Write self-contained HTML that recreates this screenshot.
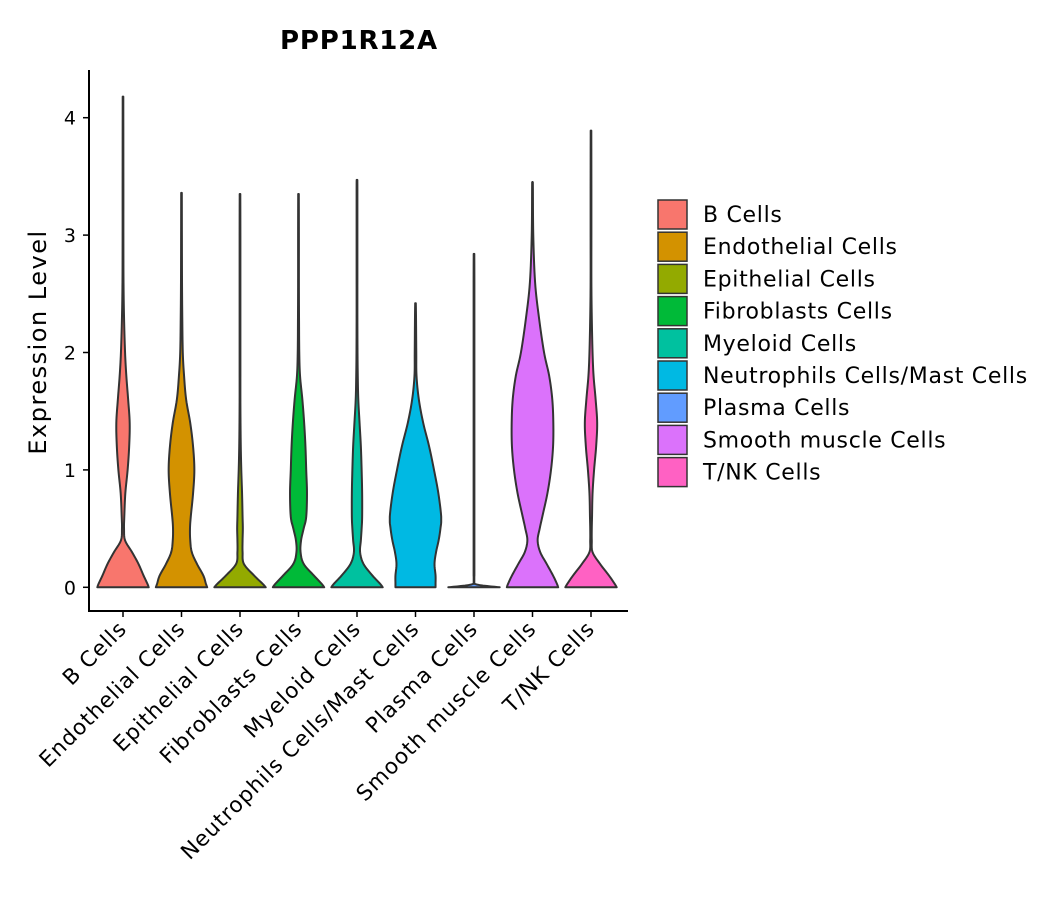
<!DOCTYPE html>
<html><head><meta charset="utf-8"><style>
body{margin:0;background:#fff}
svg text{font-family:"DejaVu Sans","Liberation Sans",sans-serif;fill:#000}
</style></head><body>
<svg width="1057" height="900" xmlns="http://www.w3.org/2000/svg">
<text x="359" y="49" text-anchor="middle" font-size="26" font-weight="bold" letter-spacing="0.8">PPP1R12A</text>
<text transform="translate(46,342) rotate(-90)" text-anchor="middle" font-size="24" letter-spacing="1.5">Expression Level</text>
<g id="plot"></g>
<g id="legend"></g>
</svg>
<script>
const categories=["B Cells","Endothelial Cells","Epithelial Cells","Fibroblasts Cells","Myeloid Cells","Neutrophils Cells/Mast Cells","Plasma Cells","Smooth muscle Cells","T/NK Cells"];
const colors=["#F8766D","#D39200","#93AA00","#00BA38","#00C19F","#00B9E3","#619CFF","#DB72FB","#FF61C3"];
const grid=[0,0.03,0.1,0.2,0.3,0.4,0.5,0.6,0.8,1.0,1.2,1.4,1.6,1.8,2.0,2.3,2.6,3.0,3.4];
const maxVals=[4.18,3.36,3.35,3.35,3.47,2.42,2.84,3.45,3.89];
const wB=[1,0.95,0.8,0.6,0.35,0.08,0.04,0.05,0.09,0.18,0.24,0.26,0.2,0.13,0.08,0.04,0.02,0.015,0.015];
const wEndo=[1,0.95,0.85,0.6,0.4,0.34,0.33,0.36,0.45,0.5,0.45,0.34,0.18,0.1,0.05,0.03,0.02,0.015,0.015];
const wEpi=[1,0.88,0.55,0.15,0.1,0.1,0.11,0.1,0.08,0.05,0.03,0.02,0.015,0.015,0.015,0.015,0.015,0.015,0.015];
const wFib=[1,0.9,0.6,0.2,0.08,0.1,0.2,0.3,0.33,0.3,0.27,0.22,0.15,0.06,0.03,0.02,0.015,0.015,0.015];
const wMye=[1,0.9,0.6,0.25,0.12,0.15,0.18,0.2,0.2,0.18,0.15,0.1,0.05,0.03,0.02,0.015,0.015,0.015,0.015];
const wNeu=[0.78,0.78,0.78,0.74,0.8,0.9,0.97,1.0,0.89,0.72,0.53,0.3,0.13,0.04,0.03,0.02,0.015,0.015,0.015];
const wPla=[1,0.015,0.015,0.015,0.015,0.015,0.015,0.015,0.015,0.015,0.015,0.015,0.015,0.015,0.015,0.015,0.015,0.015,0.015];
const wSmo=[1,0.95,0.8,0.55,0.3,0.2,0.28,0.38,0.58,0.72,0.8,0.81,0.77,0.65,0.45,0.25,0.1,0.03,0.015];
const wTNK=[1,0.92,0.7,0.35,0.06,0.03,0.03,0.04,0.06,0.12,0.2,0.24,0.18,0.1,0.06,0.03,0.015,0.015,0.015];
const widths=[wB,wEndo,wEpi,wFib,wMye,wNeu,wPla,wSmo,wTNK];
const yTicks=[0,1,2,3,4];

const NS="http://www.w3.org/2000/svg";
const X0=89,X1=628,Ytop=70,Ybot=611;
const y=v=>587.3-117.4*v;
const x=i=>123+58.5*i;
const HALF=25.7;
const plot=document.getElementById('plot');
function mk(t,a,p){const e=document.createElementNS(NS,t);for(const k in a)e.setAttribute(k,a[k]);(p||plot).appendChild(e);return e;}

categories.forEach((c,i)=>{
  const pts=[];
  grid.forEach((g,j)=>{if(g<maxVals[i])pts.push([g,widths[i][j]]);});
  pts.push([maxVals[i],0.012]);
  const samp=[];
  for(let k=0;k<pts.length-1;k++){
    const p0=pts[Math.max(0,k-1)],p1=pts[k],p2=pts[k+1],p3=pts[Math.min(pts.length-1,k+2)];
    for(let s=0;s<8;s++){const t=s/8,t2=t*t,t3=t2*t;
      const f=(a,b,c2,d)=>0.5*(2*b+(-a+c2)*t+(2*a-5*b+4*c2-d)*t2+(-a+3*b-3*c2+d)*t3);
      samp.push([f(p0[0],p1[0],p2[0],p3[0]),Math.min(1,Math.max(0.012,f(p0[1],p1[1],p2[1],p3[1])))]);}
  }
  samp.push(pts[pts.length-1]);
  const cx=x(i);
  let d='M'+(cx-samp[0][1]*HALF)+','+y(0);
  samp.forEach(p=>d+=' L'+(cx-p[1]*HALF).toFixed(2)+','+y(p[0]).toFixed(2));
  for(let k=samp.length-1;k>=0;k--)d+=' L'+(cx+samp[k][1]*HALF).toFixed(2)+','+y(samp[k][0]).toFixed(2);
  d+='Z';
  const v=mk('path',{d:d,fill:colors[i],stroke:'#333','stroke-width':2,'stroke-linejoin':'round'});
  
  
  const tk=mk('line',{x1:cx,x2:cx,y1:Ybot,y2:Ybot+6,stroke:'#000','stroke-width':1.5});
  
  
  const lb=mk('text',{transform:`translate(${cx+5},${Ybot+19}) rotate(-45)`,'text-anchor':'end','font-size':21.5,'letter-spacing':1});
  lb.textContent=c;
  
  
});
yTicks.forEach(t=>{
  const tk=mk('line',{x1:X0-6,x2:X0,y1:y(t),y2:y(t),stroke:'#000','stroke-width':1.5});
  
  
  const lb=mk('text',{x:X0-13,y:y(t)+7,'text-anchor':'end','font-size':19});
  lb.textContent=t;
  
  
});
const ya=mk('line',{x1:X0,x2:X0,y1:Ytop,y2:Ybot,stroke:'#000','stroke-width':2});


const xa=mk('line',{x1:X0-1,x2:X1,y1:Ybot,y2:Ybot,stroke:'#000','stroke-width':2});



const leg=document.getElementById('legend');
categories.forEach((c,i)=>{
  const yy=200+32.2*i;
  const r=mk('rect',{x:658,y:yy,width:29,height:29,fill:colors[i],stroke:'#333','stroke-width':1.5},leg);
  
  
  const t=mk('text',{x:703,y:yy+22,'font-size':22,'letter-spacing':0.7},leg);
  t.textContent=c;
  
  
});
</script>
</body></html>
